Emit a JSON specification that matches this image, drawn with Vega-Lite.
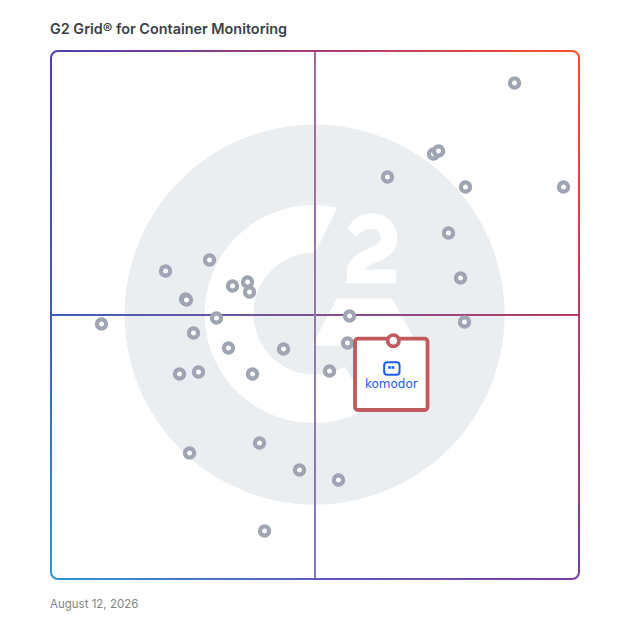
{
"$schema":"https://vega.github.io/schema/vega-lite/v6.json",
"width":530,"height":530,
"autosize":{"type":"none"},
"padding":{"left":50,"top":50,"right":48,"bottom":48},
"background":"#ffffff",
"title":{"text":"G2 Grid® for Container Monitoring","anchor":"start","frame":"group","font":"Inter","fontSize":14.4,"fontWeight":600,"color":"#3c3f47","offset":13},
"config":{"view":{"stroke":null}},
"datasets":{
"products":[
{"name":"A","x":87.65,"y":93.77},{"name":"B","x":72.36,"y":80.38},{"name":"C","x":73.31,"y":80.94},{"name":"D","x":63.68,"y":76.04},{"name":"E","x":78.4,"y":74.15},{"name":"F","x":96.89,"y":74.15},{"name":"G","x":75.19,"y":65.47},{"name":"H","x":77.46,"y":56.98},{"name":"I","x":78.21,"y":48.68},{"name":"J","x":56.52,"y":49.81},{"name":"K","x":56.14,"y":44.72},{"name":"L","x":52.74,"y":39.43},{"name":"M","x":44.06,"y":43.58},{"name":"N","x":38.21,"y":38.87},{"name":"O","x":33.68,"y":43.77},{"name":"P","x":31.42,"y":49.43},{"name":"Q","x":27.08,"y":46.6},{"name":"R","x":28.02,"y":39.25},{"name":"S","x":24.44,"y":38.87},{"name":"T","x":25.57,"y":53.02},{"name":"U","x":25.76,"y":52.83},{"name":"V","x":9.72,"y":48.3},{"name":"W","x":21.8,"y":58.3},{"name":"X","x":30.1,"y":60.38},{"name":"Y","x":34.44,"y":55.47},{"name":"Z","x":37.27,"y":56.23},{"name":"AA","x":37.65,"y":54.34},{"name":"AB","x":39.53,"y":25.85},{"name":"AC","x":26.33,"y":23.96},{"name":"AD","x":47.08,"y":20.75},{"name":"AE","x":54.44,"y":18.87},{"name":"AF","x":40.48,"y":9.25}
]},
"data":{"values":[{"x":49.92,"y":50.08}]},
"encoding":{
"x":{"field":"x","type":"quantitative","scale":{"domain":[0,100],"nice":false,"zero":false},"axis":null},
"y":{"field":"y","type":"quantitative","scale":{"domain":[0,100],"nice":false,"zero":false},"axis":null}
},
"layer":[
{"mark":{"type":"arc","radius":190,"radius2":0,"theta":0,"theta2":6.2832,"fill":"#ebeef1"}},
{"mark":{"type":"point","filled":true,"opacity":1,"fill":"#ffffff","stroke":null,"size":4,"shape":"M22.8,-107 A109,109 0 1 0 55,93 L30,52 A61,61 0 1 1 0.5,-62 Z M22.5,-16 L77.5,-16 L103.5,31 L-2.5,31 Z M32.8,-85.7 C37.5,-95 46.5,-101.3 57.2,-101.3 C71.5,-101.3 82.8,-91 82.8,-76.7 C82.8,-66 77.5,-60 67.5,-55 C58.5,-50.5 52.5,-48 49.5,-45 L81.5,-45 L81.5,-31.3 L32.2,-31.3 L32.2,-42 C32.2,-52 38.5,-58 48.5,-63.5 C58.5,-68.5 66.2,-71 66.2,-76.7 C66.2,-82 62.5,-85.5 57.2,-85.5 C50.5,-85.5 45.5,-82 41.5,-77.3 Z"}},
{"data":{"values":[{"a":0,"a2":100,"b":49.81,"b2":50.19}]},
 "mark":{"type":"rect","fill":{"gradient":"linear","x1":0,"y1":0,"x2":1,"y2":0,"stops":[{"offset":0,"color":"#3f5eb5"},{"offset":0.5,"color":"#7d5294"},{"offset":1,"color":"#b83c60"}]}},
 "encoding":{"x":{"field":"a","type":"quantitative"},"x2":{"field":"a2"},"y":{"field":"b","type":"quantitative"},"y2":{"field":"b2"}}},
{"data":{"values":[{"a":49.81,"a2":50.19,"b":0,"b2":100}]},
 "mark":{"type":"rect","fill":{"gradient":"linear","x1":0,"y1":0,"x2":0,"y2":1,"stops":[{"offset":0,"color":"#a8649c"},{"offset":0.5,"color":"#967ab2"},{"offset":1,"color":"#8478c4"}]}},
 "encoding":{"x":{"field":"a","type":"quantitative"},"x2":{"field":"a2"},"y":{"field":"b","type":"quantitative"},"y2":{"field":"b2"}}},
{"data":{"values":[{"a":1.5,"a2":98.5,"b":99.62,"b2":100}]},
 "mark":{"type":"rect","fill":{"gradient":"linear","x1":0,"y1":0,"x2":1,"y2":0,"stops":[{"offset":0,"color":"#4f3fae"},{"offset":0.5,"color":"#a83a78"},{"offset":1,"color":"#f64f2a"}]}},
 "encoding":{"x":{"field":"a","type":"quantitative"},"x2":{"field":"a2"},"y":{"field":"b","type":"quantitative"},"y2":{"field":"b2"}}},
{"data":{"values":[{"a":1.5,"a2":98.5,"b":0,"b2":0.38}]},
 "mark":{"type":"rect","fill":{"gradient":"linear","x1":0,"y1":0,"x2":1,"y2":0,"stops":[{"offset":0,"color":"#2a95d6"},{"offset":0.5,"color":"#5f5cb8"},{"offset":1,"color":"#7a3d9f"}]}},
 "encoding":{"x":{"field":"a","type":"quantitative"},"x2":{"field":"a2"},"y":{"field":"b","type":"quantitative"},"y2":{"field":"b2"}}},
{"data":{"values":[{"a":0,"a2":0.38,"b":1.5,"b2":98.5}]},
 "mark":{"type":"rect","fill":{"gradient":"linear","x1":0,"y1":0,"x2":0,"y2":1,"stops":[{"offset":0,"color":"#4f3fae"},{"offset":0.5,"color":"#3f5ab5"},{"offset":1,"color":"#2a95d6"}]}},
 "encoding":{"x":{"field":"a","type":"quantitative"},"x2":{"field":"a2"},"y":{"field":"b","type":"quantitative"},"y2":{"field":"b2"}}},
{"data":{"values":[{"a":99.62,"a2":100,"b":1.5,"b2":98.5}]},
 "mark":{"type":"rect","fill":{"gradient":"linear","x1":0,"y1":0,"x2":0,"y2":1,"stops":[{"offset":0,"color":"#f64f2a"},{"offset":0.5,"color":"#b83c60"},{"offset":1,"color":"#7a3d9f"}]}},
 "encoding":{"x":{"field":"a","type":"quantitative"},"x2":{"field":"a2"},"y":{"field":"b","type":"quantitative"},"y2":{"field":"b2"}}},
{"data":{"values":[{"x":1.5,"y":98.5}]},"mark":{"type":"arc","radius":8,"radius2":6,"theta":4.7124,"theta2":6.2832,"fill":"#4f3fae"}},
{"data":{"values":[{"x":98.5,"y":98.5}]},"mark":{"type":"arc","radius":8,"radius2":6,"theta":0,"theta2":1.5708,"fill":"#f64f2a"}},
{"data":{"values":[{"x":1.5,"y":1.5}]},"mark":{"type":"arc","radius":8,"radius2":6,"theta":3.1416,"theta2":4.7124,"fill":"#2a95d6"}},
{"data":{"values":[{"x":98.5,"y":1.5}]},"mark":{"type":"arc","radius":8,"radius2":6,"theta":1.5708,"theta2":3.1416,"fill":"#7a3d9f"}},
{"data":{"name":"products"},"mark":{"type":"point","filled":false,"opacity":1,"fill":"#ffffff","fillOpacity":1,"stroke":"#a0a5b3","strokeWidth":4.2,"size":85,"shape":"circle"}},
{"data":{"values":[{"a":57.55,"a2":71.23,"b":45.53,"b2":32.08}]},
 "mark":{"type":"rect","fill":"#ffffff","stroke":"#c05a5e","strokeWidth":3.8,"cornerRadius":3},
 "encoding":{"x":{"field":"a","type":"quantitative"},"x2":{"field":"a2"},"y":{"field":"b","type":"quantitative"},"y2":{"field":"b2"}}},
{"data":{"values":[{"name":"komodor","x":64.78,"y":45.15}]},"mark":{"type":"point","filled":false,"opacity":1,"fill":"#ffffff","fillOpacity":1,"stroke":"#c05a5e","strokeWidth":3.6,"size":130,"shape":"circle"}},
{"data":{"values":[{"a":63.05,"a2":65.95,"b":41.1,"b2":38.75}]},
 "mark":{"type":"rect","fill":"#ffffff","stroke":"#1a5cff","strokeWidth":2,"cornerRadius":3},
 "encoding":{"x":{"field":"a","type":"quantitative"},"x2":{"field":"a2"},"y":{"field":"b","type":"quantitative"},"y2":{"field":"b2"}}},
{"data":{"values":[{"x":64.05,"y":40.1},{"x":64.7,"y":40.1}]},"mark":{"type":"point","filled":true,"opacity":1,"shape":"square","size":7,"color":"#1a5cff"}},
{"data":{"values":[{"x":64.4,"y":36.3,"label":"komodor"}]},"mark":{"type":"text","font":"DejaVu Sans","fontSize":12,"color":"#1a5cff","align":"center","baseline":"alphabetic"},"encoding":{"text":{"field":"label"}}},
{"data":{"values":[{"x":0,"y":-5.2,"label":"August 12, 2026"}]},"mark":{"type":"text","font":"Inter","fontSize":11.5,"color":"#7f8288","align":"left","baseline":"alphabetic"},"encoding":{"text":{"field":"label"}}}
]
}
